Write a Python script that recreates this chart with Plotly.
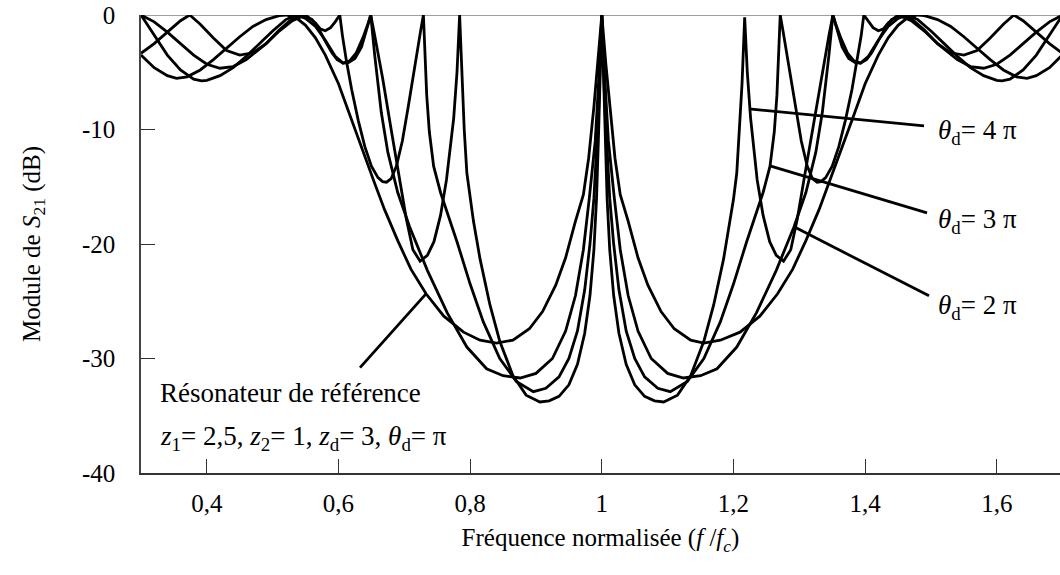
import plotly.graph_objects as go

# ---- data ----
# reference resonator (theta_d = pi)
ref_x = [0.30, 0.32, 0.34, 0.354, 0.37, 0.39, 0.41, 0.43, 0.45, 0.47, 0.49, 0.51, 0.52, 0.535, 0.55, 0.565, 0.58, 0.60, 0.62, 0.64,
         0.653, 0.67, 0.69, 0.71, 0.733, 0.76, 0.79, 0.815, 0.84, 0.865, 0.89, 0.91, 0.93, 0.945, 0.96, 0.972, 0.98, 0.988, 0.994, 1.0,
         1.006, 1.012, 1.02, 1.028, 1.04, 1.055, 1.07, 1.09, 1.11, 1.135, 1.155, 1.18, 1.21, 1.24, 1.267, 1.29, 1.31, 1.33, 1.347,
         1.36, 1.38, 1.40, 1.42, 1.435, 1.45, 1.465, 1.48, 1.49, 1.51, 1.53, 1.55, 1.57, 1.59, 1.61, 1.63, 1.646, 1.66, 1.68, 1.70, 1.71]
ref_y = [-3.5, -4.6, -5.3, -5.53, -5.4, -4.8, -3.9, -2.9, -1.9, -1.0, -0.4, -0.05, 0.0, -0.2, -0.9, -2.0, -3.5, -6.0, -9.2, -12.3,
         -14.4, -17.0, -19.7, -22.2, -24.35, -26.3, -27.7, -28.4, -28.65, -28.4, -27.4, -25.9, -23.6, -21.2, -18.0, -15.7, -12.5, -8.0, -4.2, 0.0,
         -4.2, -8.0, -12.5, -15.7, -18.0, -21.2, -23.6, -25.9, -27.4, -28.4, -28.65, -28.4, -27.7, -26.3, -24.35, -22.2, -19.7, -17.0, -14.4,
         -12.3, -9.2, -6.0, -3.5, -2.0, -0.9, -0.2, 0.0, -0.05, -0.4, -1.0, -1.9, -2.9, -3.9, -4.8, -5.4, -5.53, -5.3, -4.6, -3.5, -2.9]

# theta_d = 2 pi
d2_x = [0.30, 0.32, 0.34, 0.36, 0.38, 0.392, 0.40, 0.42, 0.44, 0.46, 0.48, 0.50, 0.52, 0.536, 0.55, 0.565, 0.58, 0.595, 0.607, 0.617,
        0.627, 0.637, 0.644, 0.649, 0.655, 0.665, 0.675, 0.69, 0.708, 0.735, 0.765, 0.795, 0.825, 0.85, 0.876, 0.90, 0.925, 0.945, 0.96,
        0.972, 0.981, 0.99, 0.996, 1.0,
        1.004, 1.01, 1.019, 1.028, 1.04, 1.055, 1.075, 1.10, 1.124, 1.15, 1.175, 1.205, 1.235, 1.265, 1.292, 1.31, 1.325, 1.335, 1.345,
        1.351, 1.356, 1.363, 1.373, 1.383, 1.393, 1.405, 1.42, 1.435, 1.45, 1.464, 1.48, 1.50, 1.52, 1.54, 1.56, 1.58, 1.60, 1.608,
        1.62, 1.64, 1.66, 1.68, 1.70, 1.71]
d2_y = [0.0, -1.8, -3.5, -4.8, -5.6, -5.76, -5.7, -5.3, -4.6, -3.6, -2.5, -1.4, -0.4, 0.0, -0.3, -1.0, -2.2, -3.6, -4.2, -4.0,
        -3.3, -2.0, -0.9, 0.0, -3.5, -8.5, -12.0, -15.5, -18.5, -22.3, -26.0, -29.0, -30.9, -31.5, -31.7, -31.3, -30.0, -27.6, -24.5,
        -20.5, -16.0, -11.0, -5.0, 0.0,
        -5.0, -11.0, -16.0, -20.5, -24.5, -27.6, -30.0, -31.3, -31.7, -31.5, -30.9, -29.0, -26.0, -22.3, -18.5, -15.5, -12.0, -8.5, -3.5,
        0.0, -0.9, -2.0, -3.3, -4.0, -4.2, -3.6, -2.2, -1.0, -0.3, 0.0, -0.4, -1.4, -2.5, -3.6, -4.6, -5.3, -5.7, -5.76,
        -5.6, -4.8, -3.5, -1.8, 0.0, -0.6]

# theta_d = 3 pi
d3_x = [0.30, 0.32, 0.34, 0.36, 0.38, 0.40, 0.42, 0.44, 0.46, 0.49, 0.51, 0.53, 0.55, 0.565, 0.572, 0.58, 0.588, 0.595, 0.602,
        0.606, 0.612, 0.62, 0.63, 0.64, 0.65, 0.66, 0.667, 0.673, 0.68, 0.688, 0.697, 0.706, 0.714, 0.72, 0.725, 0.729,
        0.731, 0.734, 0.738, 0.7445, 0.755, 0.765, 0.78, 0.80, 0.82, 0.845, 0.87, 0.896, 0.915, 0.935, 0.95, 0.963, 0.974,
        0.982, 0.988, 0.995, 0.998, 1.0,
        1.002, 1.005, 1.012, 1.018, 1.026, 1.037, 1.05, 1.065, 1.085, 1.104, 1.13, 1.155, 1.18, 1.20, 1.22, 1.235, 1.245, 1.2555,
        1.262, 1.266, 1.269, 1.271, 1.275, 1.28, 1.286, 1.294, 1.303, 1.312, 1.32, 1.327, 1.333, 1.34, 1.35, 1.36, 1.37, 1.38,
        1.388, 1.394, 1.398, 1.405, 1.412, 1.42, 1.428, 1.435, 1.45, 1.47, 1.49, 1.51, 1.54, 1.56, 1.58, 1.60, 1.62, 1.64, 1.66,
        1.68, 1.70, 1.71]
d3_y = [0.0, -0.6, -1.5, -2.5, -3.5, -4.3, -4.65, -4.5, -3.9, -2.5, -1.4, -0.5, 0.0, -0.7, -1.2, -1.37, -1.1, -0.6, 0.0,
        -1.8, -4.0, -6.5, -9.2, -11.5, -13.2, -14.2, -14.55, -14.6, -14.3, -13.2, -11.0, -8.0, -5.0, -3.0, -1.3, 0.0,
        -3.5, -7.0, -10.2, -13.2, -15.5, -17.2, -19.8, -23.5, -26.8, -30.0, -32.0, -32.9, -32.6, -31.6, -30.0, -27.6, -24.0,
        -20.0, -16.0, -8.5, -3.5, 0.0,
        -3.5, -8.5, -16.0, -20.0, -24.0, -27.6, -30.0, -31.6, -32.6, -32.9, -32.0, -30.0, -26.8, -23.5, -19.8, -17.2, -15.5, -13.2,
        -10.2, -7.0, -3.5, 0.0, -1.3, -3.0, -5.0, -8.0, -11.0, -13.2, -14.3, -14.6, -14.55, -14.2, -13.2, -11.5, -9.2, -6.5,
        -4.0, -1.8, 0.0, -0.6, -1.1, -1.37, -1.2, -0.7, 0.0, -0.5, -1.4, -2.5, -3.9, -4.5, -4.65, -4.3, -3.5, -2.5, -1.5,
        -0.6, 0.0, -0.2]

# theta_d = 4 pi
d4_x = [0.30, 0.32, 0.34, 0.36, 0.374, 0.39, 0.41, 0.43, 0.45, 0.47, 0.49, 0.51, 0.53, 0.545, 0.56, 0.57, 0.58, 0.59, 0.598,
        0.607, 0.615, 0.625, 0.635, 0.643, 0.649, 0.655, 0.667, 0.68, 0.693, 0.703, 0.713, 0.724, 0.735, 0.745, 0.755, 0.764,
        0.775, 0.78, 0.784, 0.788, 0.791, 0.795, 0.80, 0.805, 0.815, 0.83, 0.845, 0.865, 0.885, 0.906, 0.92, 0.935, 0.95, 0.963,
        0.974, 0.982, 0.988, 0.992, 0.995, 0.997, 0.9985, 1.0,
        1.0015, 1.003, 1.005, 1.008, 1.012, 1.018, 1.026, 1.037, 1.05, 1.065, 1.08, 1.094, 1.115, 1.135, 1.155, 1.17, 1.185,
        1.195, 1.20, 1.205, 1.209, 1.213, 1.217, 1.221, 1.226, 1.236, 1.245, 1.255, 1.265, 1.276, 1.287, 1.297, 1.307, 1.32,
        1.333, 1.345, 1.351, 1.357, 1.365, 1.375, 1.385, 1.393, 1.402, 1.41, 1.42, 1.43, 1.44, 1.455, 1.47, 1.49, 1.51, 1.53,
        1.55, 1.57, 1.59, 1.61, 1.626, 1.64, 1.66, 1.68, 1.70, 1.71]
d4_y = [-3.35, -2.5, -1.5, -0.5, 0.0, -0.8, -2.0, -3.1, -3.5, -3.3, -2.5, -1.3, -0.3, 0.0, -0.4, -1.2, -2.3, -3.3, -3.9,
        -4.2, -4.15, -3.8, -2.8, -1.3, 0.0, -1.8, -5.5, -10.0, -14.4, -17.8, -20.5, -21.5, -21.0, -19.8, -17.5, -14.4,
        -9.0, -5.0, 0.0, -6.0, -10.0, -13.8, -16.1, -18.0, -21.3, -25.3, -28.5, -31.5, -33.2, -33.8, -33.7, -33.3, -32.3, -30.5,
        -27.8, -24.5, -20.5, -16.0, -10.5, -6.5, -3.0, 0.0,
        -3.0, -6.5, -10.5, -16.0, -20.5, -24.5, -27.8, -30.5, -32.3, -33.3, -33.7, -33.8, -33.2, -31.5, -28.5, -25.3, -21.3,
        -18.0, -16.1, -13.8, -10.0, -6.0, -0.2, -5.0, -9.0, -14.4, -17.5, -19.8, -21.0, -21.5, -20.5, -17.8, -14.4, -10.0,
        -5.5, -1.8, 0.0, -1.3, -2.8, -3.8, -4.15, -4.2, -3.9, -3.3, -2.3, -1.2, -0.4, 0.0, -0.3, -1.3, -2.5, -3.3,
        -3.5, -3.1, -2.0, -0.8, 0.0, -0.5, -1.5, -2.5, -3.35, -3.7]

x_tick_vals = [0.4, 0.6, 0.8, 1.0, 1.2, 1.4, 1.6]
x_tick_text = ["0,4", "0,6", "0,8", "1", "1,2", "1,4", "1,6"]
y_tick_vals = [0, -10, -20, -30, -40]
y_tick_text = ["0", "-10", "-20", "-30", "-40"]

FONT = "Liberation Serif"
LINE = dict(color="black", width=2.8)

fig = go.Figure()
for xs, ys in [(ref_x, ref_y), (d2_x, d2_y), (d3_x, d3_y), (d4_x, d4_y)]:
    fig.add_trace(go.Scatter(x=xs, y=ys, mode="lines", line=LINE, showlegend=False, hoverinfo="skip"))

# gray top line at 0 dB
fig.add_shape(type="line", xref="paper", yref="y", x0=0, x1=1, y0=0, y1=0, layer="below",
              line=dict(color="#808080", width=1.5))

# pointer lines
pointers = [
    (1.2236, -8.2, 1.4894, -9.69),
    (1.2555, -13.18, 1.4940, -17.28),
    (1.2920, -18.5, 1.4970, -24.53),
    (0.7329, -24.35, 0.6327, -30.8),
]
for x0, y0, x1, y1 in pointers:
    fig.add_shape(type="line", xref="x", yref="y", x0=x0, y0=y0, x1=x1, y1=y1,
                  line=dict(color="black", width=2.8))

ann_font = dict(family=FONT, size=27, color="black")
labels = [
    (1.5077, -10.2, "<i>θ</i><sub>d</sub>= 4 π"),
    (1.5077, -18.0, "<i>θ</i><sub>d</sub>= 3 π"),
    (1.5077, -25.5, "<i>θ</i><sub>d</sub>= 2 π"),
]
for x, y, t in labels:
    fig.add_annotation(x=x, y=y, xref="x", yref="y", text=t, showarrow=False,
                       xanchor="left", yanchor="middle", font=ann_font)
fig.add_annotation(x=0.326, y=-33.0, xref="x", yref="y", text="Résonateur de référence",
                   showarrow=False, xanchor="left", yanchor="middle", font=ann_font)
fig.add_annotation(x=0.326, y=-36.95, xref="x", yref="y",
                   text="<i>z</i><sub>1</sub>= 2,5, <i>z</i><sub>2</sub>= 1, <i>z</i><sub>d</sub>= 3, <i>θ</i><sub>d</sub>= π",
                   showarrow=False, xanchor="left", yanchor="middle", font=ann_font)

fig.update_layout(
    width=1060, height=575,
    margin=dict(l=141, r=0, t=15, b=102),
    paper_bgcolor="white", plot_bgcolor="white",
    font=dict(family=FONT, size=25, color="black"),
    xaxis=dict(range=[0.3, 1.696], tickvals=x_tick_vals, ticktext=x_tick_text,
               ticks="inside", ticklen=14, tickwidth=1.2, tickcolor="#333",
               showline=True, linecolor="#333", linewidth=1.5, showgrid=False, zeroline=False,
               tickfont=dict(family=FONT, size=25), ticklabelstandoff=7,
               title=dict(text="Fréquence normalisée (<i>f</i> /<i>f</i><sub><i>c</i></sub>)",
                          font=dict(family=FONT, size=25), standoff=13)),
    yaxis=dict(range=[-40, 0], tickvals=y_tick_vals, ticktext=y_tick_text,
               ticks="inside", ticklen=14, tickwidth=1.2, tickcolor="#333",
               showline=True, linecolor="#444", linewidth=1.5, showgrid=False, zeroline=False,
               tickfont=dict(family=FONT, size=25), ticklabelstandoff=19,
               title=dict(text="Module de <i>S</i><sub>21</sub> (dB)",
                          font=dict(family=FONT, size=25), standoff=34)),
)

fig.write_html("out.html", config={"displayModeBar": False},
               post_script="document.body.style.margin='0px';")
